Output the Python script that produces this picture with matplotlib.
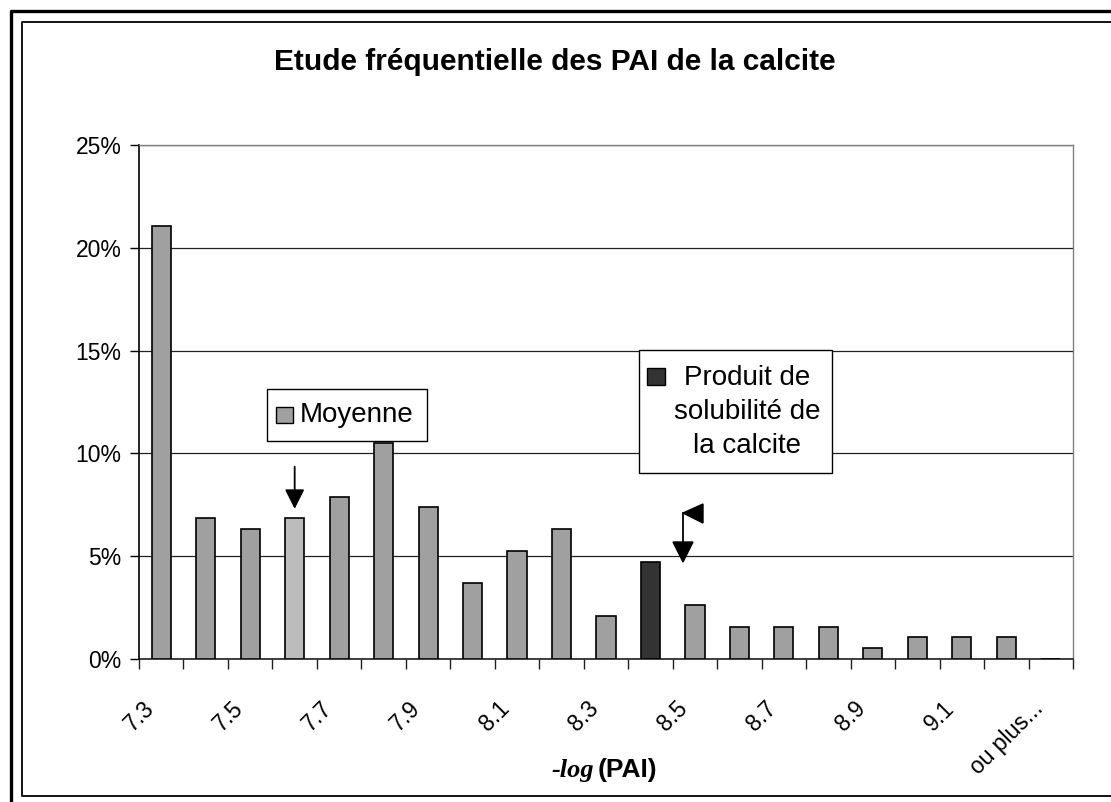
#! /usr/bin/env python3
"""
Etude frequentielle des PAI de la calcite - histogramme facon Excel
"""

import matplotlib
matplotlib.use('Agg')
import matplotlib.pyplot as plt
import matplotlib.transforms as mtransforms
from matplotlib.lines import Line2D
from matplotlib.patches import Rectangle, Polygon
from matplotlib.ticker import PercentFormatter, FixedLocator

# data (frequence en %, 190 valeurs)
categories = ['7.3', '7.4', '7.5', '7.6', '7.7', '7.8', '7.9', '8.0', '8.1',
              '8.2', '8.3', '8.4', '8.5', '8.6', '8.7', '8.8', '8.9', '9.0',
              '9.1', '9.2', 'ou plus...']
frequencies = [21.05, 6.84, 6.32, 6.84, 7.89, 10.53, 7.37, 3.68, 5.26,
               6.32, 2.11, 4.74, 2.63, 1.58, 1.58, 1.58, 0.53, 1.05,
               1.05, 1.05, 0.0]
mean_category = '7.6'
ksp_category = '8.4'
y_ticks = [0, 5, 10, 15, 20, 25]

W, H = 1111, 802
BAR = '#a0a0a0'
BAR_MEAN = '#bcbcbc'
BAR_KSP = '#333333'
SANS = 'Liberation Sans'
SERIF = 'Liberation Serif'


def fx(x):
    return x / W


def fy(y):
    return 1 - y / H


def main():
    fig = plt.figure(figsize=(W / 100, H / 100), dpi=100)
    fig.patch.set_facecolor('white')

    # chart frames
    fig.add_artist(Line2D([fx(11), fx(11), fx(W)], [fy(H), fy(11), fy(11)],
                          transform=fig.transFigure, color='black', lw=2.4))
    fig.add_artist(Line2D([fx(W), fx(22), fx(22), fx(W)],
                          [fy(22), fy(22), fy(796), fy(796)],
                          transform=fig.transFigure, color='black', lw=1.3))

    ax = fig.add_axes([fx(139), fy(659), fx(1073 - 139), (659 - 145) / H])
    x = list(range(len(categories)))
    colors = []
    for c in categories:
        if c == mean_category:
            colors.append(BAR_MEAN)
        elif c == ksp_category:
            colors.append(BAR_KSP)
        else:
            colors.append(BAR)
    ax.bar(x, frequencies, width=0.43, color=colors, edgecolor='black',
           linewidth=1.2, zorder=3)

    ax.set_xlim(-0.5, len(categories) - 0.5)
    ax.set_ylim(0, 25)
    ax.set_yticks(y_ticks)
    ax.yaxis.set_major_formatter(PercentFormatter(xmax=100, decimals=0))
    ax.grid(axis='y', color='#202020', lw=0.9, zorder=0)

    # x ticks at category boundaries, labels every other category
    ax.set_xticks(x[::2], categories[::2])
    ax.xaxis.set_minor_locator(FixedLocator([i - 0.5 for i in x] + [x[-1] + 0.5]))
    ax.tick_params(axis='x', which='major', length=0, pad=0)
    ax.tick_params(axis='x', which='minor', length=7.5, width=1.0,
                   color='#202020', direction='out')
    ax.tick_params(axis='y', length=6.5, width=1.0, direction='out',
                   labelsize=16.5, pad=6)
    for lab in ax.get_yticklabels():
        lab.set_fontfamily(SANS)
    offset = mtransforms.ScaledTranslation(-19 / 100, -38 / 100,
                                           fig.dpi_scale_trans)
    for lab in ax.get_xticklabels():
        lab.set_rotation(45)
        lab.set_rotation_mode('anchor')
        lab.set_ha('right')
        lab.set_va('top')
        lab.set_fontsize(16.5)
        lab.set_fontfamily(SANS)
        lab.set_transform(lab.get_transform() + offset)

    for side in ['top', 'right']:
        ax.spines[side].set_color('#808080')
        ax.spines[side].set_linewidth(1.0)
    ax.spines['left'].set_color('black')
    ax.spines['left'].set_linewidth(1.2)
    ax.spines['bottom'].set_color('#202020')
    ax.spines['bottom'].set_linewidth(1.2)

    # title and axis label
    fig.text(fx(555), fy(62), 'Etude fréquentielle des PAI de la calcite',
             ha='center', va='center', fontsize=21.5, fontweight='bold',
             family=SANS)
    fig.text(fx(594), fy(777), '-log', ha='right', va='baseline',
             fontsize=19, fontweight='bold', fontstyle='italic', family=SERIF)
    fig.text(fx(598), fy(777), '(PAI)', ha='left', va='baseline',
             fontsize=19, fontweight='bold', family=SANS)

    # arrow pointing to the mean
    i_mean = categories.index(mean_category)
    ax.annotate('', xy=(x[i_mean], 7.3), xytext=(x[i_mean], 9.35),
                arrowprops=dict(arrowstyle='-|>', color='black', lw=1.3,
                                mutation_scale=30, shrinkA=0, shrinkB=0),
                zorder=5)
    # elbow arrow near 8.5 (solubility product)
    p_tip = (fx(683), fy(562))
    fig.add_artist(Line2D([fx(683), fx(683)], [fy(513), fy(546)],
                          transform=fig.transFigure, color='black', lw=1.3))
    fig.add_artist(Polygon([[fx(673), fy(542)], [fx(693), fy(542)], p_tip],
                           closed=True, transform=fig.transFigure,
                           facecolor='black', edgecolor='black'))
    fig.add_artist(Polygon([[fx(683), fy(513)], [fx(703), fy(504)],
                            [fx(703), fy(523)]],
                           closed=True, transform=fig.transFigure,
                           facecolor='black', edgecolor='black'))

    # legend boxes
    fig.add_artist(Rectangle((fx(267), fy(441)), fx(427 - 267), (441 - 389) / H,
                             transform=fig.transFigure, facecolor='white',
                             edgecolor='black', lw=1.0, zorder=6))
    fig.add_artist(Rectangle((fx(276), fy(423)), fx(17), 16 / H,
                             transform=fig.transFigure, facecolor=BAR,
                             edgecolor='black', lw=1.0, zorder=7))
    fig.text(fx(300), fy(415), 'Moyenne', ha='left', va='center',
             fontsize=20, family=SANS, zorder=8)

    fig.add_artist(Rectangle((fx(639), fy(473)), fx(832 - 639), (473 - 350) / H,
                             transform=fig.transFigure, facecolor='white',
                             edgecolor='black', lw=1.0, zorder=6))
    fig.add_artist(Rectangle((fx(647), fy(385)), fx(18), 17 / H,
                             transform=fig.transFigure, facecolor=BAR_KSP,
                             edgecolor='black', lw=1.0, zorder=7))
    fig.text(fx(747), fy(412), 'Produit de\nsolubilité de\nla calcite',
             ha='center', va='center', multialignment='center',
             fontsize=20, family=SANS, linespacing=1.42, zorder=8)

    fig.savefig('out.png', dpi=100)


if __name__ == '__main__':
    main()
